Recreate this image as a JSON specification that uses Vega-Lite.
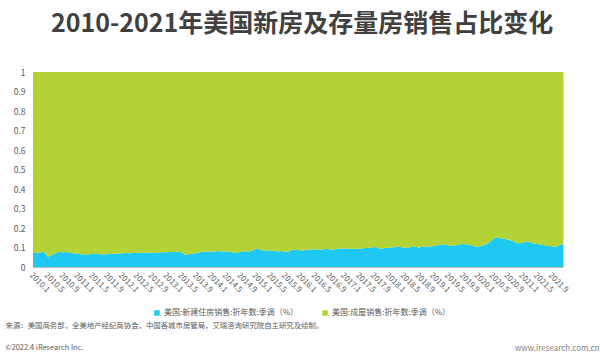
{
  "$schema": "https://vega.github.io/schema/vega-lite/v6.json",
  "width": 530,
  "height": 195,
  "autosize": "none",
  "padding": {"left": 33, "top": 72, "right": 37, "bottom": 91},
  "background": "white",
  "config": {"view": {"stroke": "#D9D9D9", "strokeWidth": 1}, "font": "Noto Sans CJK SC"},
  "title": {"text": "2010-2021年美国新房及存量房销售占比变化", "fontSize": 25, "fontWeight": "bold", "font": "Noto Sans CJK SC", "color": "#404040", "anchor": "middle", "frame": "group", "offset": 31, "dx": 4},
  "data": {"values": [
    {"m":"2010.1","new":0.073,"existing":0.927},{"m":"2010.2","new":0.072,"existing":0.928},{"m":"2010.3","new":0.075,"existing":0.925},{"m":"2010.4","new":0.078,"existing":0.922},{"m":"2010.5","new":0.053,"existing":0.947},{"m":"2010.6","new":0.062,"existing":0.938},{"m":"2010.7","new":0.070,"existing":0.930},{"m":"2010.8","new":0.078,"existing":0.922},{"m":"2010.9","new":0.074,"existing":0.926},{"m":"2010.10","new":0.077,"existing":0.923},{"m":"2010.11","new":0.073,"existing":0.927},{"m":"2010.12","new":0.071,"existing":0.929},
    {"m":"2011.1","new":0.068,"existing":0.932},{"m":"2011.2","new":0.066,"existing":0.934},{"m":"2011.3","new":0.064,"existing":0.936},{"m":"2011.4","new":0.065,"existing":0.935},{"m":"2011.5","new":0.067,"existing":0.933},{"m":"2011.6","new":0.068,"existing":0.932},{"m":"2011.7","new":0.066,"existing":0.934},{"m":"2011.8","new":0.065,"existing":0.935},{"m":"2011.9","new":0.066,"existing":0.934},{"m":"2011.10","new":0.067,"existing":0.933},{"m":"2011.11","new":0.068,"existing":0.932},{"m":"2011.12","new":0.069,"existing":0.931},
    {"m":"2012.1","new":0.070,"existing":0.930},{"m":"2012.2","new":0.072,"existing":0.928},{"m":"2012.3","new":0.071,"existing":0.929},{"m":"2012.4","new":0.072,"existing":0.928},{"m":"2012.5","new":0.073,"existing":0.927},{"m":"2012.6","new":0.072,"existing":0.928},{"m":"2012.7","new":0.073,"existing":0.927},{"m":"2012.8","new":0.074,"existing":0.926},{"m":"2012.9","new":0.073,"existing":0.927},{"m":"2012.10","new":0.072,"existing":0.928},{"m":"2012.11","new":0.074,"existing":0.926},{"m":"2012.12","new":0.076,"existing":0.924},
    {"m":"2013.1","new":0.076,"existing":0.924},{"m":"2013.2","new":0.077,"existing":0.923},{"m":"2013.3","new":0.077,"existing":0.923},{"m":"2013.4","new":0.078,"existing":0.922},{"m":"2013.5","new":0.076,"existing":0.924},{"m":"2013.6","new":0.063,"existing":0.937},{"m":"2013.7","new":0.065,"existing":0.935},{"m":"2013.8","new":0.068,"existing":0.932},{"m":"2013.9","new":0.072,"existing":0.928},{"m":"2013.10","new":0.076,"existing":0.924},{"m":"2013.11","new":0.079,"existing":0.921},{"m":"2013.12","new":0.078,"existing":0.922},
    {"m":"2014.1","new":0.080,"existing":0.920},{"m":"2014.2","new":0.079,"existing":0.921},{"m":"2014.3","new":0.082,"existing":0.918},{"m":"2014.4","new":0.080,"existing":0.920},{"m":"2014.5","new":0.078,"existing":0.922},{"m":"2014.6","new":0.080,"existing":0.920},{"m":"2014.7","new":0.074,"existing":0.926},{"m":"2014.8","new":0.072,"existing":0.928},{"m":"2014.9","new":0.079,"existing":0.921},{"m":"2014.10","new":0.081,"existing":0.919},{"m":"2014.11","new":0.080,"existing":0.920},{"m":"2014.12","new":0.082,"existing":0.918},
    {"m":"2015.1","new":0.094,"existing":0.906},{"m":"2015.2","new":0.092,"existing":0.908},{"m":"2015.3","new":0.085,"existing":0.915},{"m":"2015.4","new":0.084,"existing":0.916},{"m":"2015.5","new":0.086,"existing":0.914},{"m":"2015.6","new":0.083,"existing":0.917},{"m":"2015.7","new":0.080,"existing":0.920},{"m":"2015.8","new":0.082,"existing":0.918},{"m":"2015.9","new":0.078,"existing":0.922},{"m":"2015.10","new":0.080,"existing":0.920},{"m":"2015.11","new":0.090,"existing":0.910},{"m":"2015.12","new":0.087,"existing":0.913},
    {"m":"2016.1","new":0.086,"existing":0.914},{"m":"2016.2","new":0.084,"existing":0.916},{"m":"2016.3","new":0.088,"existing":0.912},{"m":"2016.4","new":0.090,"existing":0.910},{"m":"2016.5","new":0.091,"existing":0.909},{"m":"2016.6","new":0.089,"existing":0.911},{"m":"2016.7","new":0.090,"existing":0.910},{"m":"2016.8","new":0.092,"existing":0.908},{"m":"2016.9","new":0.091,"existing":0.909},{"m":"2016.10","new":0.090,"existing":0.910},{"m":"2016.11","new":0.093,"existing":0.907},{"m":"2016.12","new":0.094,"existing":0.906},
    {"m":"2017.1","new":0.096,"existing":0.904},{"m":"2017.2","new":0.093,"existing":0.907},{"m":"2017.3","new":0.095,"existing":0.905},{"m":"2017.4","new":0.092,"existing":0.908},{"m":"2017.5","new":0.094,"existing":0.906},{"m":"2017.6","new":0.096,"existing":0.904},{"m":"2017.7","new":0.097,"existing":0.903},{"m":"2017.8","new":0.098,"existing":0.902},{"m":"2017.9","new":0.104,"existing":0.896},{"m":"2017.10","new":0.098,"existing":0.902},{"m":"2017.11","new":0.094,"existing":0.906},{"m":"2017.12","new":0.097,"existing":0.903},
    {"m":"2018.1","new":0.099,"existing":0.901},{"m":"2018.2","new":0.100,"existing":0.900},{"m":"2018.3","new":0.105,"existing":0.895},{"m":"2018.4","new":0.102,"existing":0.898},{"m":"2018.5","new":0.100,"existing":0.900},{"m":"2018.6","new":0.098,"existing":0.902},{"m":"2018.7","new":0.104,"existing":0.896},{"m":"2018.8","new":0.107,"existing":0.893},{"m":"2018.9","new":0.099,"existing":0.901},{"m":"2018.10","new":0.104,"existing":0.896},{"m":"2018.11","new":0.106,"existing":0.894},{"m":"2018.12","new":0.104,"existing":0.896},
    {"m":"2019.1","new":0.108,"existing":0.892},{"m":"2019.2","new":0.111,"existing":0.889},{"m":"2019.3","new":0.113,"existing":0.887},{"m":"2019.4","new":0.117,"existing":0.883},{"m":"2019.5","new":0.112,"existing":0.888},{"m":"2019.6","new":0.108,"existing":0.892},{"m":"2019.7","new":0.112,"existing":0.888},{"m":"2019.8","new":0.116,"existing":0.884},{"m":"2019.9","new":0.118,"existing":0.882},{"m":"2019.10","new":0.115,"existing":0.885},{"m":"2019.11","new":0.113,"existing":0.887},{"m":"2019.12","new":0.107,"existing":0.893},
    {"m":"2020.1","new":0.104,"existing":0.896},{"m":"2020.2","new":0.108,"existing":0.892},{"m":"2020.3","new":0.115,"existing":0.885},{"m":"2020.4","new":0.125,"existing":0.875},{"m":"2020.5","new":0.142,"existing":0.858},{"m":"2020.6","new":0.152,"existing":0.848},{"m":"2020.7","new":0.148,"existing":0.852},{"m":"2020.8","new":0.146,"existing":0.854},{"m":"2020.9","new":0.141,"existing":0.859},{"m":"2020.10","new":0.136,"existing":0.864},{"m":"2020.11","new":0.128,"existing":0.872},{"m":"2020.12","new":0.122,"existing":0.878},
    {"m":"2021.1","new":0.125,"existing":0.875},{"m":"2021.2","new":0.131,"existing":0.869},{"m":"2021.3","new":0.127,"existing":0.873},{"m":"2021.4","new":0.120,"existing":0.880},{"m":"2021.5","new":0.118,"existing":0.882},{"m":"2021.6","new":0.115,"existing":0.885},{"m":"2021.7","new":0.111,"existing":0.889},{"m":"2021.8","new":0.108,"existing":0.892},{"m":"2021.9","new":0.106,"existing":0.894},{"m":"2021.10","new":0.104,"existing":0.896},{"m":"2021.11","new":0.110,"existing":0.890},{"m":"2021.12","new":0.121,"existing":0.879}
  ]},
  "transform": [{"fold": ["new", "existing"], "as": ["series", "share"]}],
  "mark": {"type": "area", "interpolate": "linear", "opacity": 1},
  "encoding": {
    "x": {
      "field": "m", "type": "ordinal", "sort": null,
      "scale": {"type": "point", "padding": 0},
      "axis": {
        "values": ["2010.1","2010.5","2010.9","2011.1","2011.5","2011.9","2012.1","2012.5","2012.9","2013.1","2013.5","2013.9","2014.1","2014.5","2014.9","2015.1","2015.5","2015.9","2016.1","2016.5","2016.9","2017.1","2017.5","2017.9","2018.1","2018.5","2018.9","2019.1","2019.5","2019.9","2020.1","2020.5","2020.9","2021.1","2021.5","2021.9"],
        "labelAngle": 45, "labelAlign": "left", "labelBaseline": "top",
        "labelFontSize": 8, "labelColor": "#595959", "labelPadding": 4, "labelOverlap": false,
        "ticks": false, "domainColor": "#BFBFBF", "grid": false,
        "title": "www.iresearch.com.cn", "titleX": 566, "titleY": 81, "titleAlign": "right", "titleAnchor": "end",
        "titleBaseline": "middle", "titleFontSize": 8, "titleFontWeight": "normal", "titleColor": "#7F7F7F"
      }
    },
    "y": {
      "field": "share", "type": "quantitative", "stack": "zero",
      "scale": {"domain": [0, 1], "nice": false},
      "axis": {
        "values": [0, 0.1, 0.2, 0.3, 0.4, 0.5, 0.6, 0.7, 0.8, 0.9, 1], "format": "~g",
        "grid": false, "ticks": false, "domain": false,
        "labelFontSize": 8.5, "labelColor": "#595959", "labelPadding": 8,
        "title": ["来源：美国商务部，全美地产经纪商协会，中国各城市房管局，艾瑞咨询研究院自主研究及绘制。", "©2022.4 iResearch Inc."],
        "titleAngle": 0, "titleAlign": "left", "titleAnchor": "start", "titleX": -28, "titleY": 249, "titleBaseline": "top",
        "titleLineHeight": 22, "titleFontSize": 7.4, "titleFontWeight": "normal", "titleColor": "#595959"
      }
    },
    "color": {
      "field": "series", "type": "nominal",
      "scale": {"domain": ["new", "existing"], "range": ["#1FC8F1", "#B3D235"]},
      "legend": {
        "orient": "none", "legendX": 120, "legendY": 237, "direction": "horizontal", "title": null,
        "symbolType": "square", "symbolSize": 30, "symbolStrokeWidth": 0, "symbolOpacity": 1,
        "labelFontSize": 8, "labelColor": "#595959", "labelOffset": 3, "columnPadding": 22,
        "labelLimit": 300,
        "labelExpr": "datum.label == 'new' ? '美国:新建住房销售:折年数:季调（%）' : '美国:成屋销售:折年数:季调（%）'"
      }
    },
    "order": {"field": "series", "sort": "descending"}
  }
}
